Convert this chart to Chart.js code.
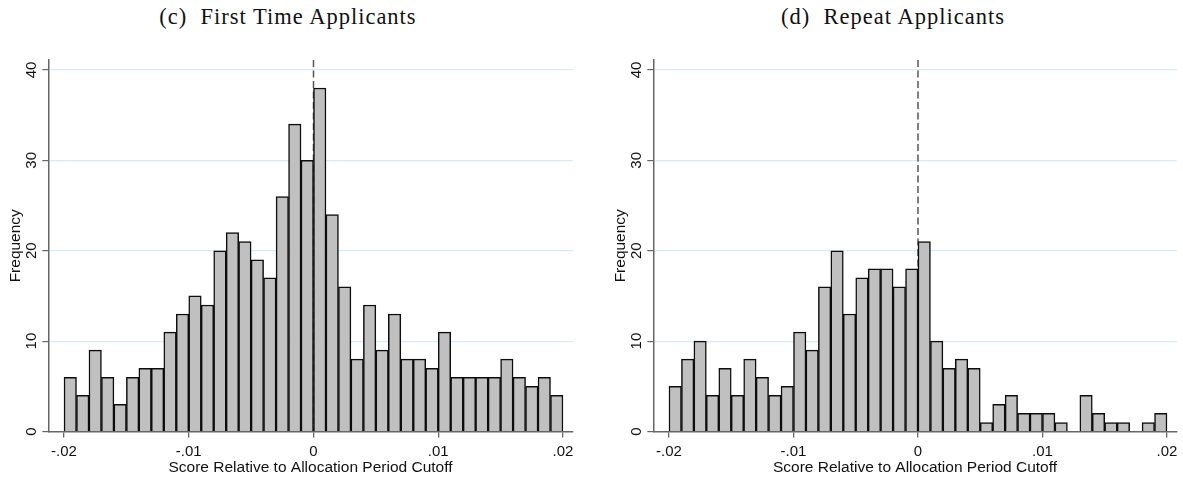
<!DOCTYPE html>
<html>
<head>
<meta charset="utf-8">
<script src="https://cdn.jsdelivr.net/npm/chart.js@4.4.1/dist/chart.umd.min.js"></script>
<style>
  body { margin: 0; background: #fff; width: 1183px; height: 479px; position: relative; overflow: hidden; }
  .panel { position: absolute; top: 0; }
  .ptitle {
    position: absolute; top: 4px; font-family: "Liberation Serif", "DejaVu Serif", serif;
    font-size: 22.5px; letter-spacing: 1px; color: #111; white-space: nowrap; transform: translateX(-50%);
  }
</style>
</head>
<body>
<div class="ptitle" style="left:288px">(c)&nbsp; First Time Applicants</div>
<div class="ptitle" style="left:893px">(d)&nbsp; Repeat Applicants</div>
<canvas id="chart-first" class="panel" style="left:0px" width="605" height="479"></canvas>
<canvas id="chart-repeat" class="panel" style="left:605px" width="578" height="479"></canvas>
<script>
// bin centres (bins are .001 wide)
var binCenters = [
  -0.0195, -0.0185, -0.0175, -0.0165, -0.0155, -0.0145, -0.0135, -0.0125, -0.0115, -0.0105,
  -0.0095, -0.0085, -0.0075, -0.0065, -0.0055, -0.0045, -0.0035, -0.0025, -0.0015, -0.0005,
  0.0005, 0.0015, 0.0025, 0.0035, 0.0045, 0.0055, 0.0065, 0.0075, 0.0085, 0.0095,
  0.0105, 0.0115, 0.0125, 0.0135, 0.0145, 0.0155, 0.0165, 0.0175, 0.0185, 0.0195
];
var firstTimeCounts = [6, 4, 9, 6, 3, 6, 7, 7, 11, 13, 15, 14, 20, 22, 21, 19, 17, 26, 34, 30,
                       38, 24, 16, 8, 14, 9, 13, 8, 8, 7, 11, 6, 6, 6, 6, 8, 6, 5, 6, 4];
var repeatCounts = [5, 8, 10, 4, 7, 4, 8, 6, 4, 5, 11, 9, 16, 20, 13, 17, 18, 18, 16, 18,
                    21, 10, 7, 8, 7, 1, 3, 4, 2, 2, 2, 1, 0, 4, 2, 1, 1, 0, 1, 2];
var xTickValues = [-0.02, -0.01, 0, 0.01, 0.02];
var xTickLabels = ["-.02", "-.01", "0", ".01", ".02"];
var yTickValues = [0, 10, 20, 30, 40];
var yTickLabels = ["0", "10", "20", "30", "40"];
var cutoff = 0;

var sansFont = "'Liberation Sans', Arial, sans-serif";

// vertical dashed line at the cutoff, behind the bars
var cutoffLine = {
    id: "cutoffLine",
    beforeDatasetsDraw: function (chart) {
        var ctx = chart.ctx, area = chart.chartArea;
        var x = chart.scales.x.getPixelForValue(cutoff);
        ctx.save();
        ctx.strokeStyle = "#555";
        ctx.lineWidth = 1.5;
        ctx.setLineDash([7, 3.5]);
        ctx.beginPath();
        ctx.moveTo(x, area.top);
        ctx.lineTo(x, area.bottom);
        ctx.stroke();
        ctx.restore();
    }
};

// stata style rotated y tick labels
var rotatedYLabels = {
    id: "rotatedYLabels",
    afterDraw: function (chart) {
        var ctx = chart.ctx, y = chart.scales.y;
        ctx.save();
        ctx.fillStyle = "#111";
        ctx.font = "15px " + sansFont;
        ctx.textAlign = "center";
        ctx.textBaseline = "alphabetic";
        yTickValues.forEach(function (v, i) {
            var py = y.getPixelForValue(v);
            ctx.save();
            ctx.translate(y.left + 35.7, py);
            ctx.rotate(-Math.PI / 2);
            ctx.fillText(yTickLabels[i], 0, 0);
            ctx.restore();
        });
        ctx.restore();
    }
};

function makeHist(id, counts, padRight) {
    var points = binCenters.map(function (c, i) { return { x: c, y: counts[i] }; });
    return new Chart(id, {
        type: "bar",
        data: {
            datasets: [{
                data: points,
                backgroundColor: "#c0c0c0",
                borderColor: "#0d0d0d",
                borderWidth: 1.5,
                barPercentage: 1,
                categoryPercentage: 1
            }]
        },
        options: {
            responsive: false,
            animation: false,
            devicePixelRatio: 1,
            layout: { padding: { top: 60, right: padRight, bottom: 0, left: 0 } },
            plugins: { legend: { display: false }, tooltip: { enabled: false } },
            scales: {
                x: {
                    type: "linear",
                    min: -0.02126,
                    max: 0.02078,
                    offset: false,
                    afterBuildTicks: function (s) { s.ticks = xTickValues.map(function (v) { return { value: v }; }); },
                    afterFit: function (s) { s.height = 47.5; },
                    grid: { offset: false, drawOnChartArea: false, drawTicks: true, tickLength: 6, tickColor: "#666", lineWidth: 1.3 },
                    border: { color: "#666", width: 1.5 },
                    ticks: {
                        padding: 5,
                        color: "#111",
                        maxRotation: 0,
                        font: { family: sansFont, size: 15 },
                        callback: function (v) { return xTickLabels[xTickValues.indexOf(v)]; }
                    },
                    title: {
                        display: true,
                        text: "Score Relative to Allocation Period Cutoff",
                        color: "#111",
                        font: { family: sansFont, size: 15.5 },
                        padding: { top: 0, bottom: 2 }
                    }
                },
                y: {
                    min: 0,
                    max: 41.1,
                    afterBuildTicks: function (s) { s.ticks = yTickValues.map(function (v) { return { value: v }; }); },
                    afterFit: function (s) { s.width = 48.3; },
                    grid: {
                        color: function (c) { return c.tick && c.tick.value === 0 ? "rgba(0,0,0,0)" : "#d9e9f5"; },
                        tickColor: "#666",
                        tickLength: 6,
                        lineWidth: 1.2
                    },
                    border: { color: "#666", width: 1.5 },
                    ticks: { display: false },
                    title: {
                        display: true,
                        text: "Frequency",
                        color: "#111",
                        font: { family: sansFont, size: 15.5 },
                        padding: { top: 6, bottom: 0 }
                    }
                }
            }
        },
        plugins: [cutoffLine, rotatedYLabels]
    });
}

makeHist("chart-first", firstTimeCounts, 32.3);
makeHist("chart-repeat", repeatCounts, 6.3);
</script>
</body>
</html>
